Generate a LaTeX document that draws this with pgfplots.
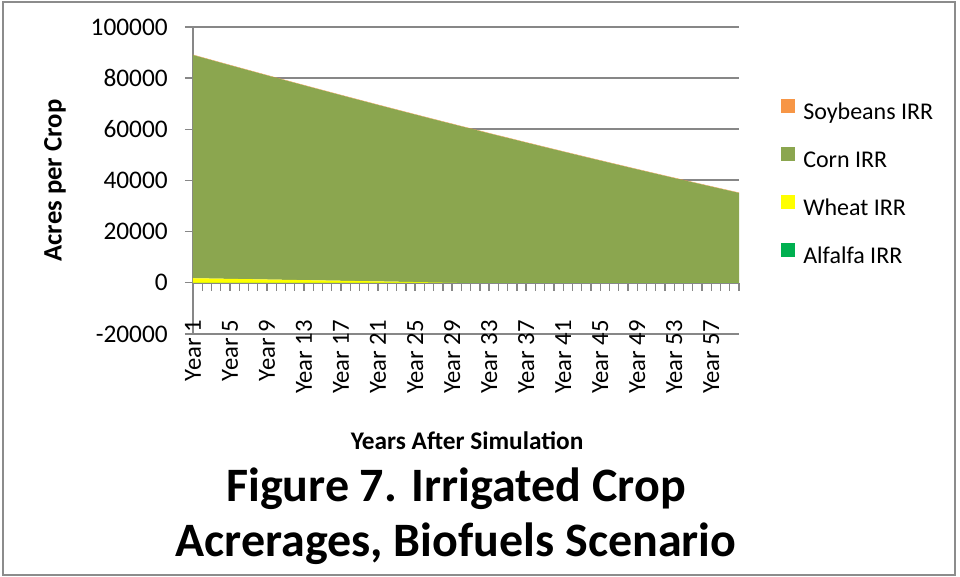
\documentclass[border=0pt]{standalone}
\usepackage{fontspec}
\setmainfont{Carlito}
\usepackage{pgfplots}
\usepackage{pgfplotstable}
\pgfplotsset{compat=1.18}
\definecolor{corn}{HTML}{8BA64F}
\definecolor{wheat}{HTML}{FFFF00}
\definecolor{soy}{HTML}{F79646}
\definecolor{alfalfa}{HTML}{00B050}
\definecolor{gridgray}{HTML}{878787}
\definecolor{framegray}{HTML}{8C8C8C}
\pgfplotstableread{
i alfalfa wheat corn soy
0 0 1800 87250 150
1 0 1738 86305 150
2 0 1676 85364 150
3 0 1614 84425 150
4 0 1552 83490 150
5 0 1490 82558 150
6 0 1428 81628 150
7 0 1366 80703 150
8 0 1304 79781 150
9 0 1242 78862 150
10 0 1180 77946 150
11 0 1118 77033 150
12 0 1056 76124 150
13 0 994 75217 150
14 0 932 74315 150
15 0 870 73414 150
16 0 808 72517 150
17 0 746 71624 150
18 0 684 70734 150
19 0 622 69847 150
20 0 560 68963 150
21 0 498 68082 150
22 0 436 67206 150
23 0 374 66331 150
24 0 312 65461 150
25 0 250 64593 150
26 0 188 63728 150
27 0 126 62867 150
28 0 64 62009 150
29 0 0 61156 150
30 0 0 60242 150
31 0 0 59332 150
32 0 0 58425 150
33 0 0 57521 150
34 0 0 56621 150
35 0 0 55723 150
36 0 0 54828 150
37 0 0 53938 150
38 0 0 53049 150
39 0 0 52165 150
40 0 0 51283 150
41 0 0 50405 150
42 0 0 49530 150
43 0 0 48658 150
44 0 0 47790 150
45 0 0 46925 150
46 0 0 46062 150
47 0 0 45204 150
48 0 0 44348 150
49 0 0 43496 150
50 0 0 42646 150
51 0 0 41800 150
52 0 0 40957 150
53 0 0 40117 150
54 0 0 39282 150
55 0 0 38448 150
56 0 0 37618 150
57 0 0 36792 150
58 0 0 35968 150
59 0 0 35148 150
}\cropdata
\begin{document}
\begin{tikzpicture}
\path[use as bounding box] (-144.75pt,-182.25pt) rectangle (575.25pt,250.5pt);
\draw[framegray, line width=1.1pt] (-142.5pt,-180.75pt) rectangle (571.5pt,249pt);
\begin{axis}[
  at={(0pt,0pt)}, anchor=south west,
  scale only axis, width=409.5pt, height=230.25pt,
  xmin=0, xmax=59, ymin=-20000, ymax=100000,
  axis y line=left, axis x line=middle,
  axis line style={-, draw=gridgray, line width=1.2pt},
  hide obscured x ticks=false, hide obscured y ticks=false,
  stack plots=y,
  ytick={-20000,0,20000,40000,60000,80000,100000},
  scaled y ticks=false,
  ymajorgrids=true,
  grid style={gridgray, line width=1.5pt},
  xtick={0,4,...,56},
  minor xtick={0,...,59},
  xticklabels={Year 1,Year 5,Year 9,Year 13,Year 17,Year 21,Year 25,Year 29,Year 33,Year 37,Year 41,Year 45,Year 49,Year 53,Year 57},
  tick align=outside,
  major tick length=6pt, minor tick length=6pt,
  tick style={gridgray, line width=1pt},
  /pgf/number format/assume math mode=true,
  yticklabel style={/pgf/number format/fixed, /pgf/number format/1000 sep={}, font=\fontsize{19pt}{19pt}\selectfont, inner sep=0pt, xshift=-12.75pt},
  xticklabel style={yshift=-21.75pt, rotate=90, anchor=east, font=\fontsize{18.5pt}{18.5pt}\selectfont, inner sep=0pt},
  ylabel={Acres per Crop},
  ylabel style={at={(axis description cs:-0.2527,0.5)}, anchor=center, font=\bfseries\fontsize{20pt}{20pt}\selectfont},
  xlabel={Years After Simulation},
  xlabel style={at={(axis description cs:0.502,-0.3746)}, anchor=base, font=\bfseries\fontsize{19pt}{19pt}\selectfont},
  legend style={at={(axis description cs:1.0769,0.7655)}, anchor=north west, draw=none, fill=none, inner sep=0pt, row sep=16.8pt, column sep=6pt, font=\fontsize{18pt}{18pt}\selectfont, nodes={inner sep=0pt, text height=12pt, text depth=4pt}},
  legend cell align=left,
  reverse legend,
  legend image code/.code={\path[#1, draw=none] (0pt,0.75pt) rectangle (10.5pt,11.25pt);},
]
\addplot[fill=alfalfa, draw=none] table[x=i, y=alfalfa] {\cropdata} \closedcycle;
\addlegendentry{Alfalfa IRR}
\addplot[fill=wheat, draw=none] table[x=i, y=wheat] {\cropdata} \closedcycle;
\addlegendentry{Wheat IRR}
\addplot[fill=corn, draw=none] table[x=i, y=corn] {\cropdata} \closedcycle;
\addlegendentry{Corn IRR}
\addplot[fill=soy, draw=none] table[x=i, y=soy] {\cropdata} \closedcycle;
\addlegendentry{Soybeans IRR}
\end{axis}
\node[anchor=base, font=\bfseries\fontsize{36pt}{36pt}\selectfont] at (197.25pt,-126pt) {Figure 7. Irrigated Crop};
\node[anchor=base, font=\bfseries\fontsize{36pt}{36pt}\selectfont] at (197.25pt,-167.25pt) {Acrerages, Biofuels Scenario};
\end{tikzpicture}
\end{document}
